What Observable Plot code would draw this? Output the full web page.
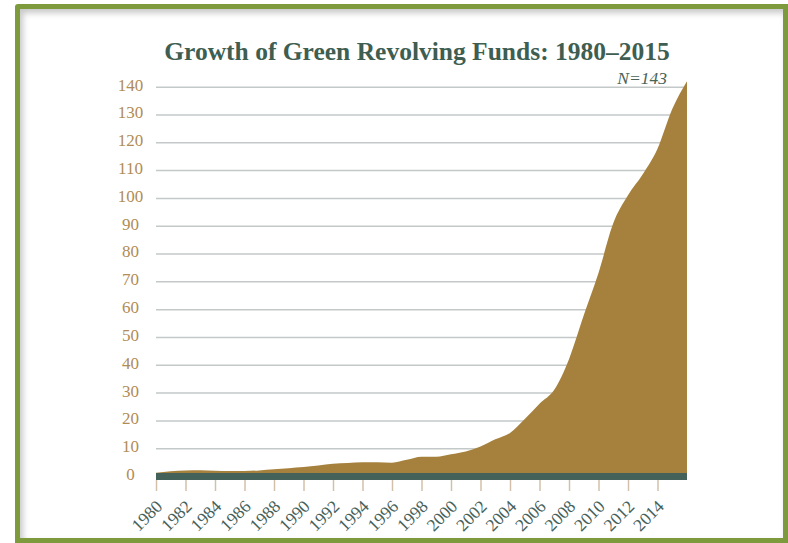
<!DOCTYPE html>
<html>
<head>
<meta charset="utf-8">
<script src="https://cdn.jsdelivr.net/npm/d3@7"></script>
<script src="https://cdn.jsdelivr.net/npm/@observablehq/plot@0.6"></script>
<style>
  html, body { margin: 0; padding: 0; background: #fff; }
  body { width: 788px; height: 543px; position: relative; overflow: hidden; }
  #frame {
    position: absolute; left: 15px; top: 4px; width: 773px; height: 539px;
    box-sizing: border-box; border: 5px solid #7d9b3d; border-radius: 3px 0 0 0;
    box-shadow: inset 3px 4px 6px rgba(0,0,0,0.22);
  }
  #chart { position: absolute; left: 0; top: 0; }
  #title {
    position: absolute; left: 0; width: 834px; top: 41px; text-align: center;
    font-family: "Liberation Serif", serif; font-weight: bold; font-size: 25.5px;
    color: #3f5e52; line-height: 22px; height: 22px; white-space: nowrap;
  }
  #note {
    position: absolute; right: 121px; top: 69.5px;
    font-family: "Liberation Serif", serif; font-style: italic; font-size: 17.5px;
    color: #4a6358; line-height: 16px; height: 16px;
  }
</style>
</head>
<body>
<div id="frame"></div>
<div id="chart"></div>
<div id="title">Growth of Green Revolving Funds: 1980–2015</div>
<div id="note">N=143</div>
<script>
const years = [1980,1981,1982,1983,1984,1985,1986,1987,1988,1989,
               1990,1991,1992,1993,1994,1995,1996,1997,1998,1999,
               2000,2001,2002,2003,2004,2005,2006,2007,2008,2009,
               2010,2011,2012,2013,2014,2015,2016];
const funds = [1.2,1.7,2.0,2.1,1.9,1.8,1.8,2.0,2.4,2.8,
               3.2,3.8,4.4,4.7,4.9,4.9,4.8,5.8,6.9,6.9,
               7.8,8.8,10.6,13.2,15.5,20.5,26,31,42,57.8,
               73,90.9,101,108.5,117.7,132,142];
const yTicks = [0,10,20,30,40,50,60,70,80,90,100,110,120,130,140];
const xTicks = [1980,1982,1984,1986,1988,1990,1992,1994,1996,1998,
                2000,2002,2004,2006,2008,2010,2012,2014];

const data = years.map((y, i) => ({year: y, value: funds[i]}));
const serif = "Liberation Serif, Times New Roman, serif";
const frameH = 543 - 86.7 - 67;

const chart = Plot.plot({
  width: 788,
  height: 543,
  marginLeft: 156,
  marginRight: 101,
  marginTop: 86.7,
  marginBottom: 67,
  style: {fontFamily: serif, background: "transparent"},
  x: {domain: [1980, 2016], axis: null},
  y: {domain: [0, 140], axis: null},
  marks: [
    Plot.ruleY(yTicks.filter(d => d > 0), {y: d => d, stroke: "#c3c9c8", strokeWidth: 1.5}),
    Plot.ruleX(xTicks, {x: d => d, insetTop: frameH + 4, insetBottom: -15,
                        stroke: "#d2c0aa", strokeWidth: 1.5}),
    Plot.areaY(data, {x: "year", y: "value", fill: "#a6803d", curve: "monotone-x"}),
    Plot.ruleY([0], {stroke: "#44625a", strokeWidth: 7}),
    Plot.text(yTicks, {
      y: d => d, frameAnchor: "left", dx: -26, dy: -2, text: d => String(d),
      textAnchor: "middle", fill: "#b08c56", fontSize: 17, fontFamily: serif
    }),
    Plot.text(xTicks, {
      x: d => d, y: 0, dy: 27, dx: 3, rotate: -45, text: d => String(d),
      textAnchor: "end", fill: "#46615a", fontSize: 17.5, fontFamily: serif
    })
  ]
});
document.getElementById("chart").appendChild(chart);
</script>
</body>
</html>
